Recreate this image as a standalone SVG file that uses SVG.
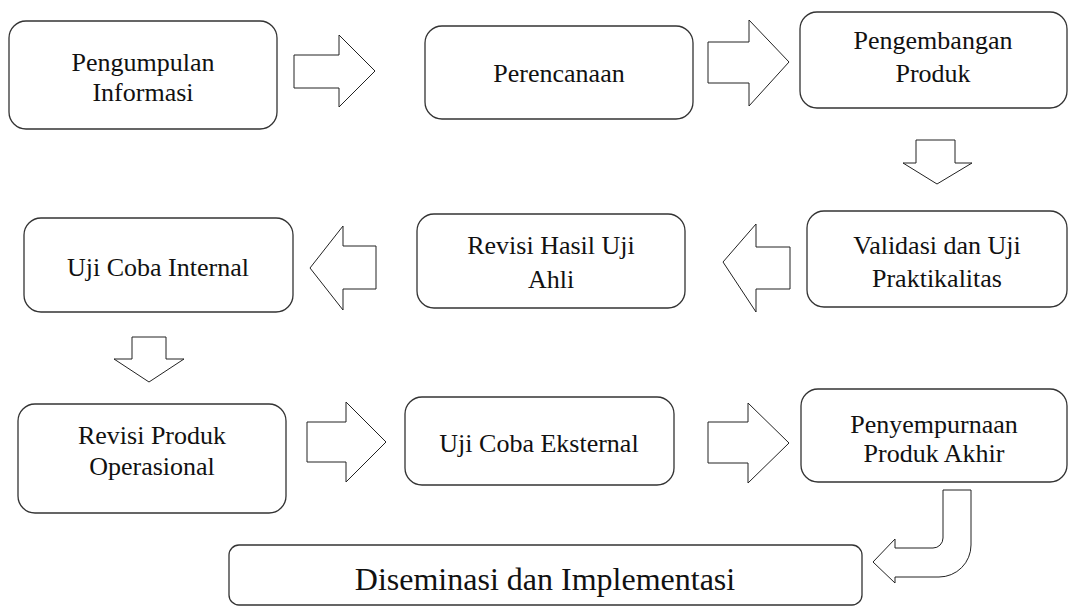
<svg xmlns="http://www.w3.org/2000/svg" width="1069" height="608" viewBox="0 0 1069 608">
<style>
.box{fill:#fff;stroke:#333;stroke-width:1.3}
.arr{fill:#fff;stroke:#222;stroke-width:1}
.t{font-family:'Liberation Serif','DejaVu Serif',serif;font-size:26px;fill:#111;text-anchor:middle}
.big{font-size:32px}
</style>
<rect width="1069" height="608" fill="#fff"/>
<g id="connectors">
<polygon class="arr" points="294,55 339,55 339,35 375,71 339,107 339,88 294,88"/>
<polygon class="arr" points="708,42 749,42 749,20 789,62 749,106 749,83 708,83"/>
<polygon class="arr" points="916,140 955,140 955,163 972,163 937,184 903,163 916,163"/>
<polygon class="arr" points="790,247 756,247 756,224 723,262 756,312 756,289 790,289"/>
<polygon class="arr" points="376,246 343,246 343,226 310,268 343,310 343,289 376,289"/>
<polygon class="arr" points="132,337 166,337 166,359 184,359 149,382 114,359 132,359"/>
<polygon class="arr" points="307,422 346,422 346,402 386,442 346,482 346,462 307,462"/>
<polygon class="arr" points="708,422 748,422 748,403 789,443 748,483 748,463 708,463"/>
<path class="arr" d="M943,490 H971 V545 A32,32 0 0 1 939,577 H895 V583 L873,562 L895,539 V548 H933 A10,10 0 0 0 943,538 Z"/>
</g>
<g id="n1"><rect class="box" x="9" y="21" width="268" height="108" rx="17"/><text class="t" font-family="Liberation Serif, serif" x="143" y="71">Pengumpulan</text><text class="t" font-family="Liberation Serif, serif" x="143" y="101">Informasi</text></g>
<g id="n2"><rect class="box" x="425" y="26" width="268" height="93" rx="17"/><text class="t" font-family="Liberation Serif, serif" x="559" y="82">Perencanaan</text></g>
<g id="n3"><rect class="box" x="800" y="12" width="267" height="96" rx="17"/><text class="t" font-family="Liberation Serif, serif" x="933" y="49">Pengembangan</text><text class="t" font-family="Liberation Serif, serif" x="933" y="82">Produk</text></g>
<g id="n4"><rect class="box" x="24" y="218" width="269" height="94" rx="17"/><text class="t" font-family="Liberation Serif, serif" x="158" y="276">Uji Coba Internal</text></g>
<g id="n5"><rect class="box" x="417" y="214" width="268" height="94" rx="17"/><text class="t" font-family="Liberation Serif, serif" x="551" y="254">Revisi Hasil Uji</text><text class="t" font-family="Liberation Serif, serif" x="551" y="288">Ahli</text></g>
<g id="n6"><rect class="box" x="807" y="211" width="260" height="96" rx="17"/><text class="t" font-family="Liberation Serif, serif" x="937" y="254">Validasi dan Uji</text><text class="t" font-family="Liberation Serif, serif" x="937" y="287">Praktikalitas</text></g>
<g id="n7"><rect class="box" x="18" y="404" width="268" height="109" rx="17"/><text class="t" font-family="Liberation Serif, serif" x="152" y="444">Revisi Produk</text><text class="t" font-family="Liberation Serif, serif" x="152" y="475">Operasional</text></g>
<g id="n8"><rect class="box" x="405" y="397" width="269" height="88" rx="17"/><text class="t" font-family="Liberation Serif, serif" x="539" y="452">Uji Coba Eksternal</text></g>
<g id="n9"><rect class="box" x="801" y="389" width="266" height="93" rx="17"/><text class="t" font-family="Liberation Serif, serif" x="934" y="433">Penyempurnaan</text><text class="t" font-family="Liberation Serif, serif" x="934" y="462">Produk Akhir</text></g>
<g id="n10"><rect class="box" x="229" y="545" width="633" height="60" rx="10"/><text class="t big" font-family="Liberation Serif, serif" x="545" y="590">Diseminasi dan Implementasi</text></g>
</svg>
